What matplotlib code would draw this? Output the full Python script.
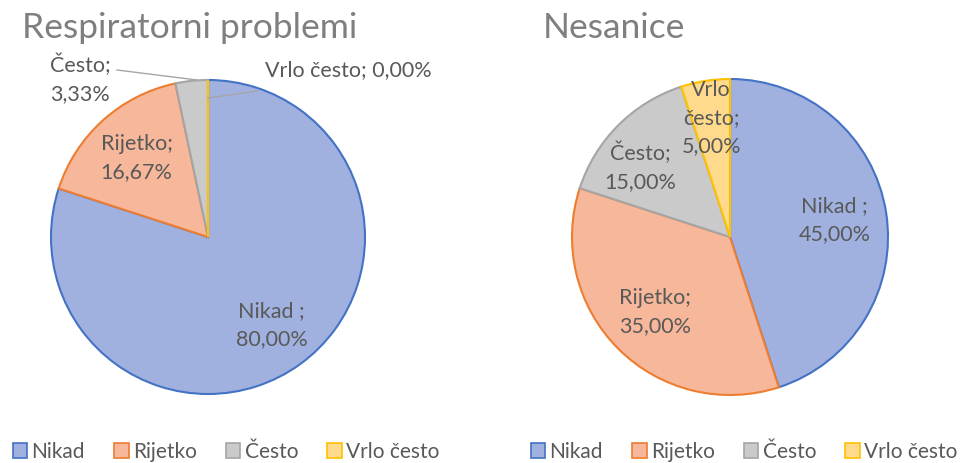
import matplotlib.pyplot as plt
import numpy as np
from matplotlib.patches import Patch

plt.rcParams["font.family"] = ["Lato", "DejaVu Sans"]

categories = ["Nikad", "Rijetko", "Često", "Vrlo često"]
label_names = ["Nikad ", "Rijetko", "Često", "Vrlo često"]
resp_values = [80.00, 16.67, 3.33, 0.00]
sleep_values = [45.00, 35.00, 15.00, 5.00]

fill_colors = ["#A0B1E0", "#F6B79A", "#CACACA", "#FFDA8C"]
edge_colors = ["#4472C4", "#ED7D31", "#A5A5A5", "#FFC000"]
text_color = "#595959"
title_color = "#7F7F7F"
LABEL_FS = 15.5
LINESP = 1.5

W, H = 963, 463
fig = plt.figure(figsize=(W / 100, H / 100), dpi=100)


def make_axes(cx, cy, r):
    size = 2.2 * r
    ax = fig.add_axes([(cx - size / 2) / W, (H - cy - size / 2) / H, size / W, size / H])
    return ax


def fmt(name, val):
    return f"{name}; {val:.2f}%".replace(".", ",")


def draw_pie(ax, values):
    wedges, _ = ax.pie(
        values,
        colors=fill_colors,
        startangle=90,
        counterclock=False,
        radius=1.0,
        wedgeprops=dict(linewidth=1.5),
    )
    for w, ec in zip(wedges, edge_colors):
        w.set_edgecolor(ec)
    ax.set_xlim(-1.1, 1.1)
    ax.set_ylim(-1.1, 1.1)
    ax.set_aspect("equal")
    ax.axis("off")
    # mid angles of each slice, in degrees
    cum = np.cumsum([0] + list(values))
    total = float(sum(values))
    mids = [90 - 360 * (cum[i] + cum[i + 1]) / 2 / total for i in range(len(values))]
    return mids


def inside_label(ax, mid, r, text):
    a = np.deg2rad(mid)
    ax.text(r * np.cos(a), r * np.sin(a), text, ha="center", va="center",
            fontsize=LABEL_FS, color=text_color, linespacing=LINESP)


# left pie: respiratory problems
ax1 = make_axes(208, 237, 157)
mids = draw_pie(ax1, resp_values)
inside_label(ax1, mids[0], 0.69, fmt(label_names[0], resp_values[0]).replace("; ", ";\n"))
inside_label(ax1, mids[1], 0.68, fmt(label_names[1], resp_values[1]).replace("; ", ";\n"))

# outside labels with leader lines
ax1.text((50 - 208) / 157, (237 - 79) / 157, fmt(label_names[2], resp_values[2]).replace("; ", ";\n"),
         ha="left", va="center", fontsize=LABEL_FS, color=text_color, linespacing=LINESP)
ax1.plot([(117 - 208) / 157, (197 - 208) / 157], [(237 - 70) / 157, (237 - 80) / 157],
         color="#A6A6A6", lw=1)
ax1.text((265 - 208) / 157, (237 - 70) / 157, fmt(label_names[3], resp_values[3]),
         ha="left", va="center", fontsize=LABEL_FS, color=text_color)
ax1.plot([0, (257 - 208) / 157], [(237 - 98) / 157, (237 - 91) / 157], color="#A6A6A6", lw=1)

# right pie: insomnia
ax2 = make_axes(730, 237, 158)
mids = draw_pie(ax2, sleep_values)
inside_label(ax2, mids[0], 0.67, fmt(label_names[0], sleep_values[0]).replace("; ", ";\n"))
inside_label(ax2, mids[1], 0.67, fmt(label_names[1], sleep_values[1]).replace("; ", ";\n"))
inside_label(ax2, mids[2] + 7, 0.72, fmt(label_names[2], sleep_values[2]).replace("; ", ";\n"))
inside_label(ax2, mids[3], 0.76, fmt(label_names[3], sleep_values[3]).replace(" ", "\n"))

fig.text(22 / W, 1 - 28 / H, "Respiratorni problemi", fontsize=25.5, color=title_color,
         ha="left", va="center")
fig.text(543 / W, 1 - 28 / H, "Nesanice", fontsize=25.5, color=title_color,
         ha="left", va="center")

handles = [Patch(facecolor=f, edgecolor=e, linewidth=1.2) for f, e in zip(fill_colors, edge_colors)]
for cx in (226, 744):
    fig.legend(handles, categories, loc="center", bbox_to_anchor=(cx / W, 11 / H),
               ncol=4, frameon=False, fontsize=15, labelcolor=text_color,
               handlelength=0.7, handleheight=0.7, handletextpad=0.2, columnspacing=1.4)

fig.savefig("out.png", dpi=100)
